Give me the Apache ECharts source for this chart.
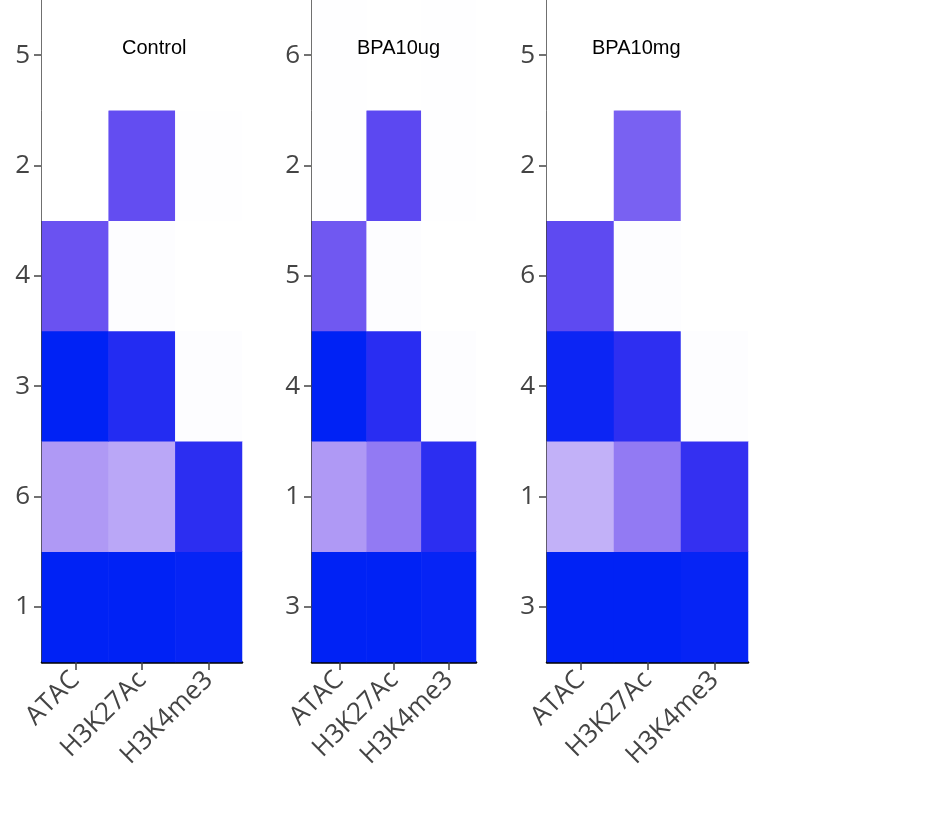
<!DOCTYPE html>
<html>
<head>
<meta charset="utf-8">
<script src="https://cdn.jsdelivr.net/npm/echarts@6/dist/echarts.min.js"></script>
<style>html,body{margin:0;background:#fff}#c{width:944px;height:826px}</style>
</head>
<body>
<div id="c"></div>
<script>
// Marks on the x axis
const marks = ['ATAC', 'H3K27Ac', 'H3K4me3'];

// Panel names
const panels = ['Control', 'BPA10ug', 'BPA10mg'];

// Row labels per panel, bottom to top
const controlRows = ['1', '6', '3', '4', '2', '5'];
const bpa10ugRows = ['3', '1', '4', '5', '2', '6'];
const bpa10mgRows = ['3', '1', '4', '6', '2', '5'];

// Values per row (bottom to top), columns ATAC, H3K27Ac, H3K4me3
const controlVals = [[1, 1, 0.98], [0.38, 0.35, 0.85], [1, 0.88, 0.03], [0.6, 0.03, 0], [0, 0.63, 0.01], [0, 0, 0]];
const bpa10ugVals = [[1, 1, 0.98], [0.38, 0.47, 0.85], [1, 0.86, 0.03], [0.58, 0.03, 0], [0.01, 0.66, 0.01], [0.01, 0, 0.01]];
const bpa10mgVals = [[1, 1, 0.98], [0.33, 0.47, 0.82], [0.96, 0.84, 0.03], [0.65, 0.03, 0], [0, 0.55, 0], [0, 0, 0]];

const rows = [controlRows, bpa10ugRows, bpa10mgRows];
const vals = [controlVals, bpa10ugVals, bpa10mgVals];

const grids = [
  { left: 42, width: 200, top: 0, height: 662 },
  { left: 312, width: 164, top: 0, height: 662 },
  { left: 547, width: 201, top: 0, height: 662 }
];

const toData = v => {
  const out = [];
  v.forEach((r, i) => r.forEach((x, j) => out.push([j, i, x])));
  return out;
};

const axisText = { color: '#444', fontSize: 26, fontFamily: 'Open Sans' };

const option = {
  animation: false,
  title: panels.map((p, i) => ({
    text: p,
    left: grids[i].left + (i === 0 ? 75 : 40),
    top: 33,
    textStyle: { fontSize: 20, fontWeight: 'normal', color: '#000', fontFamily: 'Liberation Sans' }
  })),
  grid: grids,
  visualMap: {
    show: false, min: 0, max: 1, seriesIndex: [0, 1, 2],
    inRange: { color: ['#ffffff', '#f3f0fe', '#a78ff4', '#6a52f1', '#3a32f0', '#0022f5'] }
  },
  xAxis: grids.map((g, i) => ({
    type: 'category', gridIndex: i, data: marks,
    axisLine: { lineStyle: { color: '#000', width: 2.5 } },
    axisTick: { show: true, alignWithLabel: true, length: 8, lineStyle: { color: '#444', width: 1.5 } },
    axisLabel: Object.assign({ rotate: 45, interval: 0, margin: 14 }, axisText)
  })),
  yAxis: grids.map((g, i) => ({
    type: 'category', gridIndex: i, data: rows[i],
    axisLine: { lineStyle: { color: '#000', width: 2.5 } },
    axisTick: { show: true, alignWithLabel: true, length: 8, lineStyle: { color: '#444', width: 1.5 } },
    axisLabel: Object.assign({ margin: 12 }, axisText)
  })),
  series: vals.map((v, i) => ({
    type: 'heatmap', xAxisIndex: i, yAxisIndex: i, data: toData(v), z: 1
  }))
};

echarts.init(document.getElementById('c')).setOption(option);
</script>
</body>
</html>
